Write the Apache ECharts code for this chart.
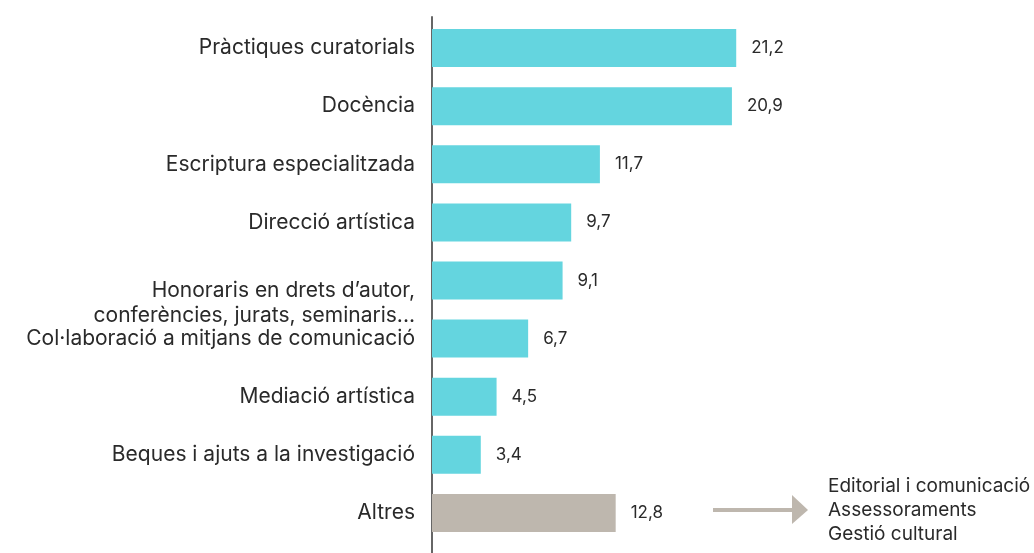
<!DOCTYPE html>
<html>
<head>
<meta charset="utf-8">
<script src="https://cdn.jsdelivr.net/npm/echarts@6/dist/echarts.min.js"></script>
<style>
  html, body { margin: 0; padding: 0; background: #fff; }
  #chart { width: 1034px; height: 553px; }
</style>
</head>
<body>
<div id="chart"></div>
<script>
// dades
const categories = [
  "Pràctiques curatorials",
  "Docència",
  "Escriptura especialitzada",
  "Direcció artística",
  "Honoraris en drets d’autor,\nconferències, jurats, seminaris...",
  "Col·laboració a mitjans de comunicació",
  "Mediació artística",
  "Beques i ajuts a la investigació",
  "Altres"
];
const values = [21.2, 20.9, 11.7, 9.7, 9.1, 6.7, 4.5, 3.4, 12.8];
const altresDetail = ["Editorial i comunicació", "Assessoraments", "Gestió cultural"];

const cyan = "#64d5df";
const beige = "#beb7ae";
const font = "Inter";
const textColor = "#2a2a2a";

let chart = echarts.init(document.getElementById("chart"));

let option = {
  animation: false,
  grid: [
    { left: 432, top: 19, width: 574, height: 523 },
    { left: 432, top: 17, width: 574, bottom: 0 }
  ],
  xAxis: [
    { gridIndex: 0, type: "value", min: 0, max: 40, show: false },
    { gridIndex: 1, type: "value", min: 0, max: 40, show: false }
  ],
  yAxis: [
    {
      gridIndex: 0,
      type: "category",
      inverse: true,
      data: categories,
      axisLine: { show: false },
      axisTick: { show: false },
      axisLabel: {
        margin: 17,
        fontFamily: font,
        fontSize: 21,
        color: textColor,
        lineHeight: 25,
        formatter: (v) => {
          if (v.indexOf("\n") < 0) return v;
          let lines = v.split("\n").map((l) => "{l|" + l + "}");
          return "{gap| }\n" + lines.join("\n");
        },
        rich: {
          gap: { lineHeight: 46, fontSize: 21 },
          l: { fontFamily: font, fontSize: 21, color: textColor, lineHeight: 25, align: "right" }
        }
      }
    },
    {
      gridIndex: 1,
      type: "value",
      axisLine: { show: true, lineStyle: { color: "#666", width: 2 } },
      axisTick: { show: false },
      axisLabel: { show: false },
      splitLine: { show: false }
    }
  ],
  series: [
    {
      type: "bar",
      xAxisIndex: 0,
      yAxisIndex: 0,
      barWidth: 38,
      data: values.map((v, i) => ({
        value: v,
        itemStyle: { color: i === values.length - 1 ? beige : cyan }
      })),
      label: {
        show: true,
        position: "right",
        distance: 15,
        fontFamily: font,
        fontSize: 17,
        color: textColor,
        formatter: (p) => String(p.value).replace(".", ",")
      }
    }
  ],
  graphic: [
    {
      type: "rect",
      shape: { x: 713, y: 508, width: 80, height: 4 },
      style: { fill: beige }
    },
    {
      type: "polygon",
      shape: { points: [[792, 495], [808, 510], [792, 524]] },
      style: { fill: beige }
    },
    {
      type: "text",
      left: 828,
      top: 474,
      style: {
        text: altresDetail.join("\n"),
        fontFamily: font,
        fontSize: 19,
        lineHeight: 24,
        fill: textColor
      }
    }
  ]
};

chart.setOption(option);
</script>
</body>
</html>
